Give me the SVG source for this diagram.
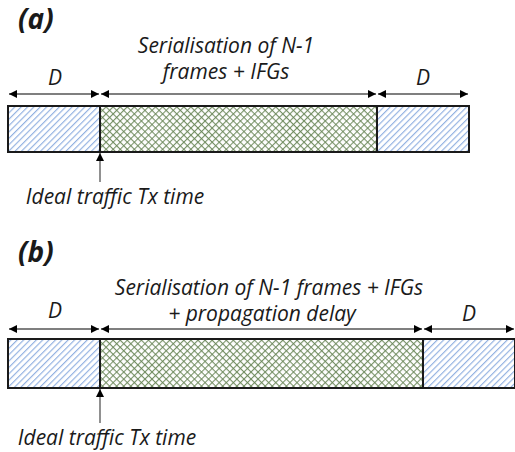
<svg xmlns="http://www.w3.org/2000/svg" width="515" height="452" viewBox="0 0 515 452">
<style>
.lbl{font-family:"Open Sans","Liberation Sans",sans-serif;font-style:italic;font-size:21px;fill:#1a1a1a}
.ttl{font-family:"Open Sans","Liberation Sans",sans-serif;font-style:italic;font-weight:bold;font-size:28px;fill:#1a1a1a}
.box{stroke:#1a1a1a;stroke-width:2}
.dim{stroke:#555;stroke-width:1.3;fill:none}
</style>
<defs>
<pattern id="hatch" width="4.5" height="4.5" patternUnits="userSpaceOnUse" patternTransform="rotate(45)">
<rect width="4.5" height="4.5" fill="#fff"/>
<line x1="0.6" y1="0" x2="0.6" y2="4.5" stroke="#8cadE0" stroke-width="1.1"/>
</pattern>
<pattern id="cross" width="5" height="5" patternUnits="userSpaceOnUse" patternTransform="rotate(45)">
<rect width="5" height="5" fill="#fff"/>
<line x1="0.6" y1="0" x2="0.6" y2="5" stroke="#6a8758" stroke-width="1"/>
<line x1="0" y1="0.6" x2="5" y2="0.6" stroke="#6a8758" stroke-width="1"/>
</pattern>
<marker id="ah" viewBox="0 0 8 8" refX="8" refY="4" markerWidth="8" markerHeight="8" markerUnits="userSpaceOnUse" orient="auto-start-reverse">
<path d="M0,0 L8,4 L0,8 z" fill="#000"/>
</marker>
</defs>

<g id="panel-a">
<text class="ttl" x="18" y="29">(a)</text>
<g id="a-d1"><rect class="box" x="8" y="106" width="92" height="46" fill="url(#hatch)"/></g>
<g id="a-ser"><rect class="box" x="100" y="106" width="277" height="46" fill="url(#cross)"/></g>
<g id="a-d2"><rect class="box" x="377" y="106" width="92" height="46" fill="url(#hatch)"/></g>
<text class="lbl" x="55" y="85" text-anchor="middle">D</text>
<text class="lbl" x="226" y="53" text-anchor="middle">Serialisation of N-1</text>
<text class="lbl" x="226" y="79" text-anchor="middle">frames + IFGs</text>
<text class="lbl" x="423" y="85" text-anchor="middle">D</text>
<text class="lbl" x="115" y="204" text-anchor="middle">Ideal traffic Tx time</text>
</g>

<g id="panel-b">
<text class="ttl" x="18" y="262">(b)</text>
<g id="b-d1"><rect class="box" x="8" y="339" width="92" height="49" fill="url(#hatch)"/></g>
<g id="b-ser"><rect class="box" x="100" y="339" width="323" height="49" fill="url(#cross)"/></g>
<g id="b-d2"><rect class="box" x="423" y="339" width="92" height="49" fill="url(#hatch)"/></g>
<text class="lbl" x="55" y="318" text-anchor="middle">D</text>
<text class="lbl" x="269" y="295" text-anchor="middle">Serialisation of N-1 frames + IFGs</text>
<text class="lbl" x="262" y="321" text-anchor="middle">+ propagation delay</text>
<text class="lbl" x="469" y="321" text-anchor="middle">D</text>
<text class="lbl" x="107" y="445" text-anchor="middle">Ideal traffic Tx time</text>
</g>

<g id="connectors">
<line class="dim" x1="9" y1="94" x2="99" y2="94" marker-start="url(#ah)" marker-end="url(#ah)"/>
<line class="dim" x1="101" y1="94" x2="376" y2="94" marker-start="url(#ah)" marker-end="url(#ah)"/>
<line class="dim" x1="378" y1="94" x2="468" y2="94" marker-start="url(#ah)" marker-end="url(#ah)"/>
<line class="dim" x1="100" y1="182" x2="100" y2="153" marker-end="url(#ah)"/>
<line class="dim" x1="9" y1="329" x2="99" y2="329" marker-start="url(#ah)" marker-end="url(#ah)"/>
<line class="dim" x1="101" y1="329" x2="422" y2="329" marker-start="url(#ah)" marker-end="url(#ah)"/>
<line class="dim" x1="424" y1="329" x2="514" y2="329" marker-start="url(#ah)" marker-end="url(#ah)"/>
<line class="dim" x1="100" y1="423" x2="100" y2="389" marker-end="url(#ah)"/>
</g>
</svg>
